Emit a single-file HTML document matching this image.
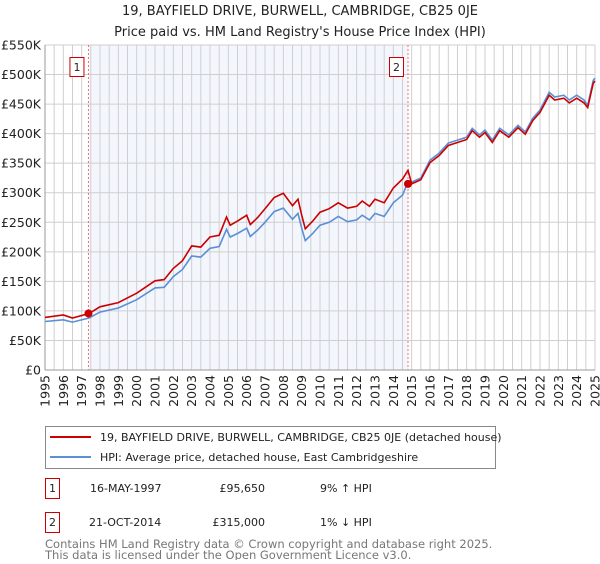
<!DOCTYPE html>
<html><head><meta charset="utf-8"><style>
body{margin:0;background:#fff;font-family:"DejaVu Sans","Liberation Sans",sans-serif;}
svg text{font-family:"DejaVu Sans","Liberation Sans",sans-serif;}
</style></head><body>
<svg id="chart" width="600" height="560" viewBox="0 0 600 560" xmlns="http://www.w3.org/2000/svg">
<text x="300" y="15" text-anchor="middle" font-size="13" fill="#222">19, BAYFIELD DRIVE, BURWELL, CAMBRIDGE, CB25 0JE</text>
<text x="300" y="36" text-anchor="middle" font-size="13" fill="#222">Price paid vs. HM Land Registry's House Price Index (HPI)</text>
<g id="plot"></g>
<g>
<rect x="45.5" y="426.5" width="450" height="42" fill="#fff" stroke="#888"/>
<line x1="50" y1="437" x2="91" y2="437" stroke="#cc0000" stroke-width="2"/>
<text x="100" y="441" font-size="11" fill="#222">19, BAYFIELD DRIVE, BURWELL, CAMBRIDGE, CB25 0JE (detached house)</text>
<line x1="50" y1="457" x2="91" y2="457" stroke="#5b8fd6" stroke-width="2"/>
<text x="100" y="461" font-size="11" fill="#222">HPI: Average price, detached house, East Cambridgeshire</text>
</g>
<g font-size="11" fill="#222">
<rect x="45.5" y="478.5" width="14" height="20" fill="#fff" stroke="#cc0000"/>
<text x="52.5" y="492" text-anchor="middle">1</text>
<text x="90" y="492">16-MAY-1997</text>
<text x="265" y="492" text-anchor="end">£95,650</text>
<text x="320" y="492">9% ↑ HPI</text>
</g>
<g font-size="11" fill="#222">
<rect x="45.5" y="512.5" width="14" height="20" fill="#fff" stroke="#cc0000"/>
<text x="52.5" y="526" text-anchor="middle">2</text>
<text x="89" y="526">21-OCT-2014</text>
<text x="265" y="526" text-anchor="end">£315,000</text>
<text x="320" y="526">1% ↓ HPI</text>
</g>
<text x="45" y="548" font-size="11.5" fill="#777">Contains HM Land Registry data © Crown copyright and database right 2025.</text>
<text x="45" y="559" font-size="11.5" fill="#777">This data is licensed under the Open Government Licence v3.0.</text>
</svg>
<script>
const hpiYears=[1995,1996,1996.5,1997.4,1998,1999,2000,2001,2001.5,2002,2002.5,2003,2003.5,2004,2004.5,2004.9,2005.1,2005.5,2006,2006.2,2006.6,2007,2007.5,2008,2008.5,2008.8,2009,2009.2,2009.6,2010,2010.5,2011,2011.5,2012,2012.3,2012.7,2013,2013.5,2014,2014.5,2014.8,2015,2015.5,2016,2016.5,2017,2017.5,2018,2018.3,2018.7,2019,2019.4,2019.8,2020.3,2020.8,2021.2,2021.6,2022,2022.5,2022.8,2023.3,2023.6,2024,2024.4,2024.6,2024.9,2025];
const hpiValues=[82000,85000,81000,88000,98000,105000,119000,139000,140000,158000,170000,193000,191000,206000,209000,238000,225000,231000,240000,226000,237000,250000,268000,274000,255000,265000,240000,219000,231000,245000,250000,260000,251000,254000,262000,254000,265000,260000,283000,296000,318000,318000,325000,355000,367000,384000,389000,394000,409000,398000,406000,389000,409000,398000,414000,403000,426000,440000,470000,462000,465000,457000,465000,457000,448000,490000,494000];
const priceValues=[89000,93000,88000,95650,107000,114000,130000,151000,153000,172000,185000,210000,208000,225000,228000,259000,245000,252000,262000,246000,258000,273000,292000,299000,278000,289000,262000,239000,252000,267000,273000,283000,274000,277000,286000,277000,289000,283000,308000,323000,338000,315000,322000,351000,363000,380000,385000,390000,405000,394000,402000,385000,405000,394000,410000,399000,422000,436000,465000,457000,460000,452000,460000,452000,444000,485000,489000];
const saleYears=[1997.37,2014.8];
const saleValues=[95650,315000];
const saleLabels=["1","2"];
const yTicks=[0,50000,100000,150000,200000,250000,300000,350000,400000,450000,500000,550000];
const yTickLabels=["£0","£50K","£100K","£150K","£200K","£250K","£300K","£350K","£400K","£450K","£500K","£550K"];
const xTicks=[1995,1996,1997,1998,1999,2000,2001,2002,2003,2004,2005,2006,2007,2008,2009,2010,2011,2012,2013,2014,2015,2016,2017,2018,2019,2020,2021,2022,2023,2024,2025];
const L=45,R=595,T=45,B=370,X0=1995,X1=2025,YMAX=550000;
const xs=v=>L+(v-X0)/(X1-X0)*(R-L);
const ys=v=>B-v/YMAX*(B-T);
const NS="http://www.w3.org/2000/svg";
const g=document.getElementById('plot');
function mk(t,a){const e=document.createElementNS(NS,t);for(const k in a)e.setAttribute(k,a[k]);g.appendChild(e);return e;}
let e=mk('rect',{x:xs(saleYears[0]),y:T,width:xs(saleYears[1])-xs(saleYears[0]),height:B-T,fill:'#eef3fc',opacity:0.7});


for(let i=0;i<=60;i++){const yv=X0+i/2;const x=xs(yv);
 e=mk('line',{x1:x,y1:T,x2:x,y2:B,stroke:'#cfcfcf','stroke-width':1});
 
 }
yTicks.forEach((v,i)=>{const y=ys(v);
 e=mk('line',{x1:L,y1:y,x2:R,y2:y,stroke:'#cfcfcf','stroke-width':1});
 
 
 e=mk('text',{x:L-4,y:y+4.5,'text-anchor':'end','font-size':12.5,fill:'#222'});e.textContent=yTickLabels[i];
 
 });
xTicks.forEach(v=>{const x=xs(v);
 e=mk('text',{x:0,y:0,'text-anchor':'end','font-size':12.5,fill:'#222',transform:`translate(${x+4.5},${B+5}) rotate(-90)`});e.textContent=v;
 
 });
e=mk('line',{x1:L,y1:T,x2:L,y2:B,stroke:'#999'});


e=mk('line',{x1:L,y1:B,x2:R,y2:B,stroke:'#999'});


saleYears.forEach((v,i)=>{const x=xs(v);
 e=mk('line',{x1:x,y1:T,x2:x,y2:B,stroke:'#f07070','stroke-dasharray':'2,2'});
 
 
 e=mk('rect',{x:x-18.5,y:57.5,width:14,height:19,fill:'#fff',stroke:'#cc0000'});
 
 
 e=mk('text',{x:x-11.5,y:71,'text-anchor':'middle','font-size':11,fill:'#222'});e.textContent=saleLabels[i];
 
 });
const pts=(vals)=>hpiYears.map((y,i)=>xs(y).toFixed(1)+','+ys(vals[i]).toFixed(1)).join(' ');
e=mk('polyline',{points:pts(hpiValues),fill:'none',stroke:'#5b8fd6','stroke-width':1.6});


e=mk('polyline',{points:pts(priceValues),fill:'none',stroke:'#cc0000','stroke-width':1.6});


saleYears.forEach((v,i)=>{
 e=mk('circle',{cx:xs(v),cy:ys(saleValues[i]),r:4,fill:'#cc0000'});
 
 });
</script>
</body></html>
